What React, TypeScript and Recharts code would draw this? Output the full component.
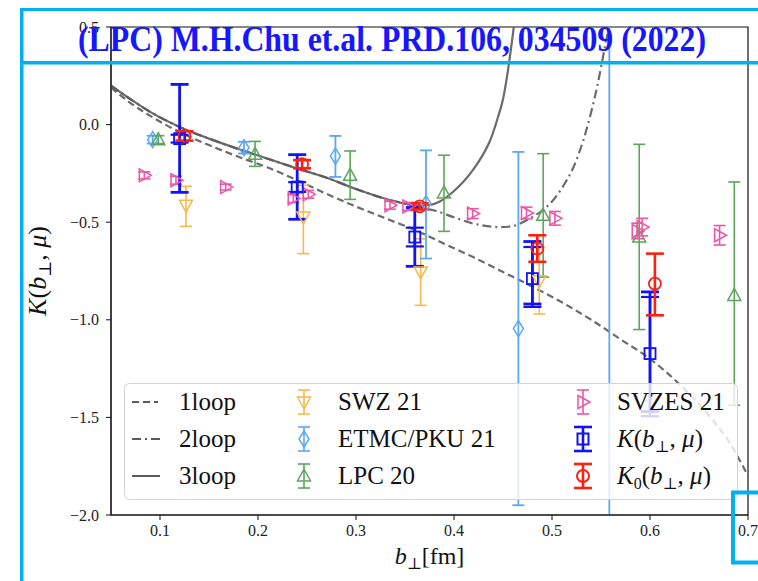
import React from 'react';
import {
  ComposedChart,
  Line,
  Scatter,
  ErrorBar,
  XAxis,
  YAxis,
  Legend,
  ReferenceArea,
  ReferenceLine,
} from 'recharts';

// ---------- perturbative kernels (b in fm, K dimensionless) ----------
const oneLoop = [
  { b: 0.05, k: 0.19 }, { b: 0.07, k: 0.11 }, { b: 0.09, k: 0.045 }, { b: 0.12, k: -0.038 },
  { b: 0.15, k: -0.105 }, { b: 0.18, k: -0.165 }, { b: 0.21, k: -0.22 }, { b: 0.24, k: -0.285 },
  { b: 0.27, k: -0.355 }, { b: 0.3, k: -0.42 }, { b: 0.33, k: -0.48 }, { b: 0.36, k: -0.54 },
  { b: 0.39, k: -0.61 }, { b: 0.42, k: -0.68 }, { b: 0.45, k: -0.755 }, { b: 0.48, k: -0.83 },
  { b: 0.51, k: -0.91 }, { b: 0.54, k: -1.0 }, { b: 0.57, k: -1.1 }, { b: 0.6, k: -1.2 },
  { b: 0.63, k: -1.33 }, { b: 0.66, k: -1.49 }, { b: 0.68, k: -1.62 }, { b: 0.7, k: -1.8 },
];

const twoLoop = [
  { b: 0.05, k: 0.2 }, { b: 0.07, k: 0.13 }, { b: 0.09, k: 0.065 }, { b: 0.12, k: -0.012 },
  { b: 0.15, k: -0.072 }, { b: 0.18, k: -0.125 }, { b: 0.21, k: -0.175 }, { b: 0.24, k: -0.225 },
  { b: 0.27, k: -0.272 }, { b: 0.3, k: -0.33 }, { b: 0.33, k: -0.38 }, { b: 0.35, k: -0.405 },
  { b: 0.365, k: -0.425 }, { b: 0.38, k: -0.44 }, { b: 0.4, k: -0.475 }, { b: 0.42, k: -0.507 },
  { b: 0.447, k: -0.525 }, { b: 0.46, k: -0.52 }, { b: 0.474, k: -0.49 }, { b: 0.49, k: -0.44 },
  { b: 0.501, k: -0.388 }, { b: 0.512, k: -0.31 }, { b: 0.522, k: -0.217 }, { b: 0.535, k: -0.029 },
  { b: 0.546, k: 0.193 }, { b: 0.554, k: 0.398 }, { b: 0.558, k: 0.5 }, { b: 0.562, k: 0.62 },
];

const threeLoop = [
  { b: 0.05, k: 0.2 }, { b: 0.07, k: 0.13 }, { b: 0.09, k: 0.065 }, { b: 0.12, k: -0.012 },
  { b: 0.15, k: -0.072 }, { b: 0.18, k: -0.125 }, { b: 0.21, k: -0.175 }, { b: 0.24, k: -0.225 },
  { b: 0.27, k: -0.272 }, { b: 0.3, k: -0.33 }, { b: 0.33, k: -0.38 }, { b: 0.35, k: -0.405 },
  { b: 0.365, k: -0.415 }, { b: 0.375, k: -0.412 }, { b: 0.385, k: -0.395 }, { b: 0.4, k: -0.34 },
  { b: 0.41, k: -0.29 }, { b: 0.42, k: -0.228 }, { b: 0.43, k: -0.15 }, { b: 0.437, k: -0.08 },
  { b: 0.445, k: 0.04 }, { b: 0.45, k: 0.13 }, { b: 0.457, k: 0.346 }, { b: 0.461, k: 0.5 },
  { b: 0.465, k: 0.68 },
];

// ---------- lattice results: err = [down, up] ----------
const swz21 = [
  { b: 0.1265, k: -0.413, err: [0.108, 0.097] },
  { b: 0.2463, k: -0.473, err: [0.188, 0.162] },
  { b: 0.366, k: -0.755, err: [0.171, 0.17] },
  { b: 0.487, k: -0.8, err: [0.17, 0.17] },
];

const etmcPku21 = [
  { b: 0.0925, k: -0.077, err: [0.02, 0.02] },
  { b: 0.1857, k: -0.118, err: [0.03, 0.03] },
  { b: 0.279, k: -0.162, err: [0.106, 0.104] },
  { b: 0.3714, k: -0.405, err: [0.281, 0.273] },
  { b: 0.4657, k: -1.045, err: [0.905, 0.905] },
  { b: 0.5585, k: -2.6, err: [0.5, 3.6] },
];

const lpc20 = [
  { b: 0.0983, k: -0.077, err: [0.02, 0.02] },
  { b: 0.197, k: -0.152, err: [0.062, 0.066] },
  { b: 0.294, k: -0.26, err: [0.123, 0.125] },
  { b: 0.3898, k: -0.35, err: [0.197, 0.193] },
  { b: 0.491, k: -0.465, err: [0.316, 0.316] },
  { b: 0.589, k: -0.576, err: [0.474, 0.475] },
  { b: 0.686, k: -0.875, err: [0.563, 0.581] },
];

const svzes21 = [
  { b: 0.084, k: -0.26, err: [0.018, 0.018] },
  { b: 0.1163, k: -0.285, err: [0.02, 0.02] },
  { b: 0.167, k: -0.32, err: [0.015, 0.015] },
  { b: 0.236, k: -0.379, err: [0.02, 0.02] },
  { b: 0.2513, k: -0.357, err: [0.02, 0.02] },
  { b: 0.3347, k: -0.413, err: [0.02, 0.02] },
  { b: 0.353, k: -0.419, err: [0.02, 0.02] },
  { b: 0.419, k: -0.456, err: [0.025, 0.025] },
  { b: 0.474, k: -0.453, err: [0.03, 0.03] },
  { b: 0.503, k: -0.48, err: [0.035, 0.035] },
  { b: 0.587, k: -0.545, err: [0.04, 0.04] },
  { b: 0.592, k: -0.525, err: [0.045, 0.045] },
  { b: 0.671, k: -0.567, err: [0.05, 0.05] },
];

const kernelK = [
  { b: 0.12, k: -0.072, err: [0.275, 0.278], err2: [0.02, 0.02] },
  { b: 0.24, k: -0.32, err: [0.165, 0.166], err2: [0.025, 0.025] },
  { b: 0.36, k: -0.576, err: [0.15, 0.151], err2: [0.048, 0.048] },
  { b: 0.48, k: -0.789, err: [0.13, 0.19], err2: [0.145, 0.162] },
  { b: 0.6, k: -1.173, err: [0.297, 0.316], err2: [0.321, 0.29] },
];

const kernelK0 = [
  { b: 0.125, k: -0.058, err: [0.024, 0.024] },
  { b: 0.245, k: -0.203, err: [0.021, 0.021] },
  { b: 0.365, k: -0.419, err: [0.016, 0.016] },
  { b: 0.485, k: -0.635, err: [0.068, 0.068] },
  { b: 0.605, k: -0.815, err: [0.162, 0.154] },
];

const xTicks = [0.1, 0.2, 0.3, 0.4, 0.5, 0.6, 0.7];
const yTicks = [-2.0, -1.5, -1.0, -0.5, 0.0, 0.5];
const X_DOMAIN: [number, number] = [0.05, 0.7];
const Y_DOMAIN: [number, number] = [-2, 0.5];

// points whose central value lies off the vertical range only show their error band
const inRange = (p: { k: number }) => p.k >= Y_DOMAIN[0] && p.k <= Y_DOMAIN[1];
const etmcShown = etmcPku21.filter(inRange);
const etmcOffScale = etmcPku21.filter((p) => !inRange(p));

// ---------- styling ----------
const CYAN = '#00b0f0';
const TITLE_BLUE = '#1717ff';
const CURVE = '#5b5b5b';
const C_SWZ = '#f8b84c';
const C_ETMC = '#5aa8f2';
const C_LPC = '#5ca65c';
const C_SVZES = '#ec56a6';
const C_K = '#1212f5';
const C_K0 = '#fa2012';
const SERIF = '"Liberation Serif", "DejaVu Serif", serif';

type Kind = 'square' | 'circle' | 'triDown' | 'diamond' | 'triUp' | 'triRight';

function marker(kind: Kind, cx: number, cy: number, color: string, sw: number) {
  switch (kind) {
    case 'square':
      return <rect x={cx - 5.5} y={cy - 5.5} width={11} height={11} fill="none" stroke={color} strokeWidth={sw} />;
    case 'circle':
      return <circle cx={cx} cy={cy} r={6} fill="none" stroke={color} strokeWidth={sw} />;
    case 'triDown':
      return <polygon points={`${cx - 6.5},${cy - 5} ${cx + 6.5},${cy - 5} ${cx},${cy + 7}`} fill="none" stroke={color} strokeWidth={sw} />;
    case 'triUp':
      return <polygon points={`${cx},${cy - 7} ${cx + 6.5},${cy + 5} ${cx - 6.5},${cy + 5}`} fill="none" stroke={color} strokeWidth={sw} />;
    case 'diamond':
      return <polygon points={`${cx},${cy - 8} ${cx + 5},${cy} ${cx},${cy + 8} ${cx - 5},${cy}`} fill="none" stroke={color} strokeWidth={sw} />;
    case 'triRight':
    default:
      return <polygon points={`${cx - 5},${cy - 6.5} ${cx + 7},${cy} ${cx - 5},${cy + 6.5}`} fill="none" stroke={color} strokeWidth={sw} />;
  }
}

const shapeOf = (kind: Kind, color: string, sw: number) => (props: any) => {
  if (props == null || props.cx == null || props.cy == null) return <g />;
  return <g>{marker(kind, props.cx, props.cy, color, sw)}</g>;
};

// ---------- legend ----------
function ErrHandle({ x, y, kind, color, thick }: { x: number; y: number; kind: Kind; color: string; thick: boolean }) {
  const half = thick ? 9 : 6;
  const sw = thick ? 2.6 : 1.6;
  return (
    <g>
      <line x1={x} y1={y - 12} x2={x} y2={y + 12} stroke={color} strokeWidth={sw} />
      <line x1={x - half} y1={y - 12} x2={x + half} y2={y - 12} stroke={color} strokeWidth={sw} />
      <line x1={x - half} y1={y + 12} x2={x + half} y2={y + 12} stroke={color} strokeWidth={sw} />
      {marker(kind, x, y, color, thick ? 2 : 1.5)}
    </g>
  );
}

function MathK({ sub, small = 16 }: { sub?: string; small?: number }) {
  return (
    <>
      <tspan fontStyle="italic">K</tspan>
      {sub ? <tspan fontSize={small} dy={5}>{sub}</tspan> : null}
      <tspan dy={sub ? -5 : 0}>(</tspan>
      <tspan fontStyle="italic">b</tspan>
      <tspan fontSize={small} dy={5}>⊥</tspan>
      <tspan dy={-5}>, </tspan>
      <tspan fontStyle="italic">μ</tspan>
      <tspan>)</tspan>
    </>
  );
}

function LegendBox() {
  const rows = [19, 56, 93];
  const fs = 25;
  return (
    <svg width={614} height={117} style={{ display: 'block', overflow: 'visible' }}>
      <rect x={0.5} y={0.5} width={613} height={116} rx={5} ry={5} fill="rgba(255,255,255,0.8)" stroke="#d4d4d4" strokeWidth={1} />
      <line x1={8} y1={rows[0]} x2={34} y2={rows[0]} stroke={CURVE} strokeWidth={2} strokeDasharray="7 4" />
      <line x1={8} y1={rows[1]} x2={36} y2={rows[1]} stroke={CURVE} strokeWidth={2} strokeDasharray="9 4 2 4" />
      <line x1={8} y1={rows[2]} x2={36} y2={rows[2]} stroke={CURVE} strokeWidth={2} />
      <g fontFamily={SERIF} fontSize={fs} fill="#111">
        <text x={55} y={rows[0] + 8}>1loop</text>
        <text x={55} y={rows[1] + 8}>2loop</text>
        <text x={55} y={rows[2] + 8}>3loop</text>
        <text x={214} y={rows[0] + 8}>SWZ 21</text>
        <text x={214} y={rows[1] + 8}>ETMC/PKU 21</text>
        <text x={214} y={rows[2] + 8}>LPC 20</text>
        <text x={493} y={rows[0] + 8}>SVZES 21</text>
        <text x={493} y={rows[1] + 8}><MathK /></text>
        <text x={493} y={rows[2] + 8}><MathK sub="0" /></text>
      </g>
      <ErrHandle x={180} y={rows[0]} kind="triDown" color={C_SWZ} thick={false} />
      <ErrHandle x={180} y={rows[1]} kind="diamond" color={C_ETMC} thick={false} />
      <ErrHandle x={180} y={rows[2]} kind="triUp" color={C_LPC} thick={false} />
      <ErrHandle x={459} y={rows[0]} kind="triRight" color={C_SVZES} thick={false} />
      <ErrHandle x={459} y={rows[1]} kind="square" color={C_K} thick />
      <ErrHandle x={459} y={rows[2]} kind="circle" color={C_K0} thick />
    </svg>
  );
}

// ---------- axis titles ----------
const XTitle = (props: any) => {
  const vb = props.viewBox || { x: 111, y: 515, width: 637, height: 40 };
  const cx = vb.x + vb.width / 2;
  return (
    <text x={cx} y={564} textAnchor="middle" fontFamily={SERIF} fontSize={24} fill="#111">
      <tspan fontStyle="italic">b</tspan>
      <tspan fontSize={16} dy={5}>⊥</tspan>
      <tspan dy={-5}>[fm]</tspan>
    </text>
  );
};

const YTitle = (props: any) => {
  const vb = props.viewBox || { x: 51, y: 27, width: 60, height: 488 };
  const cy = vb.y + vb.height / 2;
  return (
    <text transform={`translate(46, ${cy}) rotate(-90)`} textAnchor="middle" fontFamily={SERIF} fontSize={26} fill="#111">
      <MathK small={17} />
    </text>
  );
};

const fmt = (v: number) => v.toFixed(1).replace('-', '−');

export default function App() {
  const tickStyle = { fontFamily: SERIF, fontSize: 16, fill: '#222' };
  return (
    <div style={{ position: 'absolute', left: 0, top: 0, width: 758, height: 581, background: '#fff' }}>
      <ComposedChart
        width={758}
        height={581}
        margin={{ top: 27, right: 10, bottom: 26, left: 51 }}
      >
        <XAxis
          type="number"
          dataKey="b"
          domain={X_DOMAIN}
          ticks={xTicks}
          allowDataOverflow
          tickFormatter={fmt}
          tick={tickStyle}
          tickSize={5}
          tickMargin={5}
          height={40}
          stroke="#111"
          label={XTitle}
        />
        <YAxis
          type="number"
          dataKey="k"
          domain={Y_DOMAIN}
          ticks={yTicks}
          allowDataOverflow
          tickFormatter={fmt}
          tick={tickStyle}
          tickSize={5}
          tickMargin={7}
          width={60}
          stroke="#111"
          label={YTitle}
        />
        <ReferenceArea x1={X_DOMAIN[0]} x2={X_DOMAIN[1]} y1={Y_DOMAIN[0]} y2={Y_DOMAIN[1]} fill="none" stroke="#111" strokeWidth={1.2} />

        <Line data={oneLoop} dataKey="k" type="monotone" dot={false} stroke={CURVE} strokeOpacity={0.9} strokeWidth={2.2} strokeDasharray="7 4" isAnimationActive={false} />
        <Line data={twoLoop} dataKey="k" type="monotone" dot={false} stroke={CURVE} strokeOpacity={0.9} strokeWidth={2.2} strokeDasharray="9 4 2 4" isAnimationActive={false} />
        <Line data={threeLoop} dataKey="k" type="monotone" dot={false} stroke={CURVE} strokeOpacity={0.9} strokeWidth={2.2} isAnimationActive={false} />

        <Scatter data={swz21} shape={shapeOf('triDown', C_SWZ, 1.5)} isAnimationActive={false}>
          <ErrorBar dataKey="err" direction="y" width={6} stroke={C_SWZ} strokeWidth={1.6} />
        </Scatter>
        <Scatter data={etmcShown} shape={shapeOf('diamond', C_ETMC, 1.5)} isAnimationActive={false}>
          <ErrorBar dataKey="err" direction="y" width={6} stroke={C_ETMC} strokeWidth={1.8} />
        </Scatter>
        {etmcOffScale.map((p) => (
          <ReferenceLine
            key={`etmc-${p.b}`}
            segment={[
              { x: p.b, y: Math.max(Y_DOMAIN[0], p.k - p.err[0]) },
              { x: p.b, y: Math.min(Y_DOMAIN[1], p.k + p.err[1]) },
            ]}
            stroke={C_ETMC}
            strokeWidth={1.8}
          />
        ))}
        <Scatter data={lpc20} shape={shapeOf('triUp', C_LPC, 1.5)} isAnimationActive={false}>
          <ErrorBar dataKey="err" direction="y" width={6} stroke={C_LPC} strokeWidth={1.6} />
        </Scatter>
        <Scatter data={svzes21} shape={shapeOf('triRight', C_SVZES, 1.5)} isAnimationActive={false}>
          <ErrorBar dataKey="err" direction="y" width={6} stroke={C_SVZES} strokeWidth={1.6} />
        </Scatter>
        <Scatter data={kernelK} shape={shapeOf('square', C_K, 1.8)} isAnimationActive={false}>
          <ErrorBar dataKey="err" direction="y" width={9} stroke={C_K} strokeWidth={2.8} />
          <ErrorBar dataKey="err2" direction="y" width={9} stroke={C_K} strokeWidth={2.2} />
        </Scatter>
        <Scatter data={kernelK0} shape={shapeOf('circle', C_K0, 1.8)} isAnimationActive={false}>
          <ErrorBar dataKey="err" direction="y" width={9} stroke={C_K0} strokeWidth={2.6} />
        </Scatter>

        <Legend
          layout="horizontal"
          verticalAlign="middle"
          align="center"
          wrapperStyle={{ position: 'absolute', left: 124, top: 383, width: 614, height: 117 }}
          content={LegendBox}
        />
      </ComposedChart>

      <svg
        width={758}
        height={581}
        style={{ position: 'absolute', left: 0, top: 0, pointerEvents: 'none' }}
      >
        <rect x={20} y={8} width={738} height={3} fill={CYAN} />
        <rect x={20} y={8} width={3.5} height={573} fill={CYAN} />
        <rect x={20} y={61} width={738} height={3.5} fill={CYAN} />
        <rect x={733} y={492.5} width={40} height={70} fill="none" stroke={CYAN} strokeWidth={4} />
        <text
          x={78}
          y={51}
          textLength={628}
          lengthAdjust="spacingAndGlyphs"
          fontFamily={SERIF}
          fontWeight="bold"
          fontSize={35}
          fill={TITLE_BLUE}
        >
          (LPC) M.H.Chu et.al. PRD.106, 034509 (2022)
        </text>
      </svg>
    </div>
  );
}
